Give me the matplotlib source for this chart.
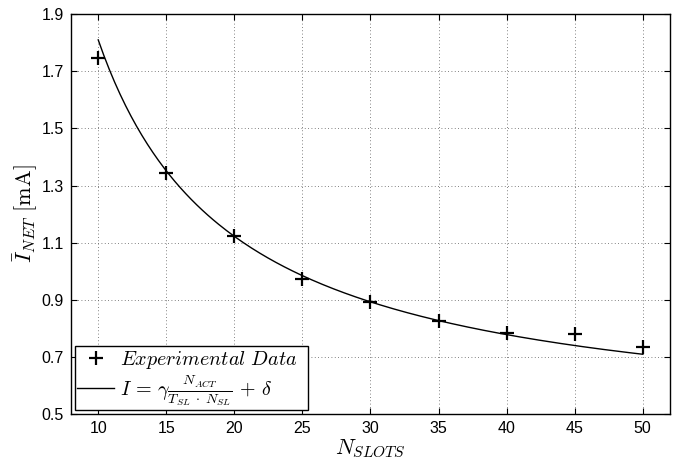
import matplotlib
matplotlib.use("Agg")
import matplotlib.pyplot as plt
import numpy as np

plt.rcParams['mathtext.fontset'] = 'cm'
plt.rcParams['font.family'] = ['Liberation Sans', 'DejaVu Sans']

# measured points
n_slots = [10, 15, 20, 25, 30, 35, 40, 45, 50]
i_net = [1.745, 1.345, 1.123, 0.971, 0.892, 0.826, 0.784, 0.781, 0.733]

# fitted model I = a / N + b
fit_a = 13.76
fit_b = 0.434
n_fit = np.linspace(10, 50, 200)
i_fit = fit_a / n_fit + fit_b

fig = plt.figure(figsize=(6.73, 4.62), dpi=100)
ax = fig.add_axes([0.1055, 0.1039, 0.89, 0.8654])

ax.plot(n_slots, i_net, '+', color='k', markersize=10, mew=1.6,
        label=r'$Experimental\ Data$')
ax.plot(n_fit, i_fit, '-', color='k', lw=1.0,
        label=r'$I\,=\,\gamma\frac{N_{ACT}}{T_{SL}\;\cdot\;N_{SL}}\,+\,\delta$' + '       ')

ax.set_xlim(8, 52)
ax.set_ylim(0.5, 1.9)
ax.set_xticks(np.arange(10, 51, 5))
ax.set_yticks(np.arange(0.5, 1.91, 0.2))
ax.set_yticklabels(['0.5', '0.7', '0.9', '1.1', '1.3', '1.5', '1.7', '1.9'])
ax.tick_params(direction='in', top=True, right=True, length=4, width=0.8,
               labelsize=11.5, pad=5)
for s in ax.spines.values():
    s.set_linewidth(1.0)
ax.grid(True, linestyle=(0, (1, 3)), color='0.35', linewidth=0.6)

ax.set_xlabel(r'$N_{SLOTS}$', fontsize=16, labelpad=1.5)
ax.set_ylabel(r'$\bar{I}_{NET}\ [\mathrm{mA}]$', fontsize=16, labelpad=1.5)

leg = ax.legend(loc='lower left', fontsize=14.5, fancybox=False, framealpha=1,
                edgecolor='k', borderaxespad=0.2, handlelength=1.8,
                handletextpad=0.3, borderpad=0.12, labelspacing=0.1)
leg.get_frame().set_linewidth(1.0)

fig.savefig('out.png', dpi=100)
